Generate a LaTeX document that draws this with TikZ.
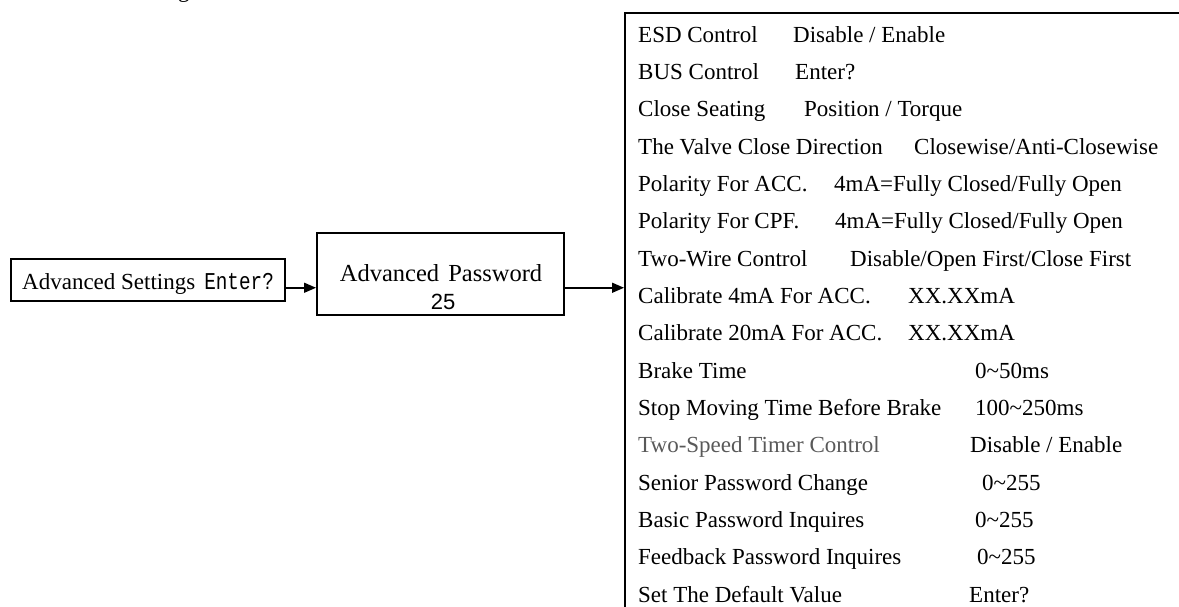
\documentclass[tikz,border=0pt]{standalone}
\usepackage{fontspec}
\usepackage{graphicx}
\setmainfont{Liberation Serif}
\setmonofont{Liberation Mono}
\setsansfont{Liberation Sans}
\usetikzlibrary{arrows.meta}
\begin{document}
\begin{tikzpicture}[x=1pt,y=-1pt,
  font=\fontsize{23}{27}\selectfont,
  box/.style={draw, line width=1.5pt, inner sep=0, anchor=north west},
  txt/.style={anchor=base west, inner sep=0},
  ctxt/.style={anchor=base, inner sep=0},
  arr/.style={line width=1.5pt, -{Triangle[length=12pt,width=10pt]}}]
\useasboundingbox (0,0) rectangle (1179,606);
% cut-off text fragment at the top
\node[txt] (frag) at (178,-3) {g};
% boxes
\node[box, minimum width=274pt, minimum height=42pt] (box1) at (10,258) {};
\node[box, minimum width=247pt, minimum height=82pt] (box2) at (316,232) {};
\node[box, line width=2pt, minimum width=570pt, minimum height=650pt] (big) at (624,12) {};
% box texts
\node[txt] (t1) at (22,289) {Advanced Settings\hspace{9pt}\scalebox{0.84}[1.05]{\ttfamily Enter?}};
\node[ctxt] (t2) at (441,281) {\fontsize{24.5}{29}\selectfont Advanced\hspace{3pt} Password};
\node[ctxt] (t3) at (443,309) {\sffamily\fontsize{22}{26}\selectfont 25};
% arrows
\draw[arr] ([yshift=-8pt]box1.east) -- ([yshift=-8pt]box1.east -| box2.west);
\draw[arr] ([yshift=-14pt]box2.east) -- ([yshift=-14pt]box2.east -| big.west);
% menu rows
\node[txt] (l0) at (638,42) {ESD Control};
\node[txt] (v0) at (793,42) {Disable / Enable};
\node[txt] (l1) at (638,79.3) {BUS Control};
\node[txt] (v1) at (795,79.3) {Enter?};
\node[txt] (l2) at (638,116.7) {Close Seating};
\node[txt] (v2) at (804,116.7) {Position / Torque};
\node[txt] (l3) at (638,154) {The Valve Close Direction};
\node[txt] (v3) at (914,154) {Closewise/Anti-Closewise};
\node[txt] (l4) at (638,191.3) {Polarity For ACC.};
\node[txt] (v4) at (834,191.3) {4mA=Fully Closed/Fully Open};
\node[txt] (l5) at (638,228.7) {Polarity For CPF.};
\node[txt] (v5) at (835,228.7) {4mA=Fully Closed/Fully Open};
\node[txt] (l6) at (638,266) {Two-Wire Control};
\node[txt] (v6) at (850,266) {Disable/Open First/Close First};
\node[txt] (l7) at (638,303.3) {Calibrate 4mA For ACC.};
\node[txt] (v7) at (908,303.3) {XX.XXmA};
\node[txt] (l8) at (638,340.7) {Calibrate 20mA For ACC.};
\node[txt] (v8) at (908,340.7) {XX.XXmA};
\node[txt] (l9) at (638,378) {Brake Time};
\node[txt] (v9) at (975,378) {0\textasciitilde50ms};
\node[txt] (l10) at (638,415.3) {Stop Moving Time Before Brake};
\node[txt] (v10) at (975,415.3) {100\textasciitilde250ms};
\node[txt, text=black!65] (l11) at (638,452.7) {Two-Speed Timer Control};
\node[txt] (v11) at (970,452.7) {Disable / Enable};
\node[txt] (l12) at (638,490) {Senior Password Change};
\node[txt] (v12) at (982,490) {0\textasciitilde255};
\node[txt] (l13) at (638,527.3) {Basic Password Inquires};
\node[txt] (v13) at (975,527.3) {0\textasciitilde255};
\node[txt] (l14) at (638,564.7) {Feedback Password Inquires};
\node[txt] (v14) at (977,564.7) {0\textasciitilde255};
\node[txt] (l15) at (638,602) {Set The Default Value};
\node[txt] (v15) at (969,602) {Enter?};
\end{tikzpicture}
\end{document}
